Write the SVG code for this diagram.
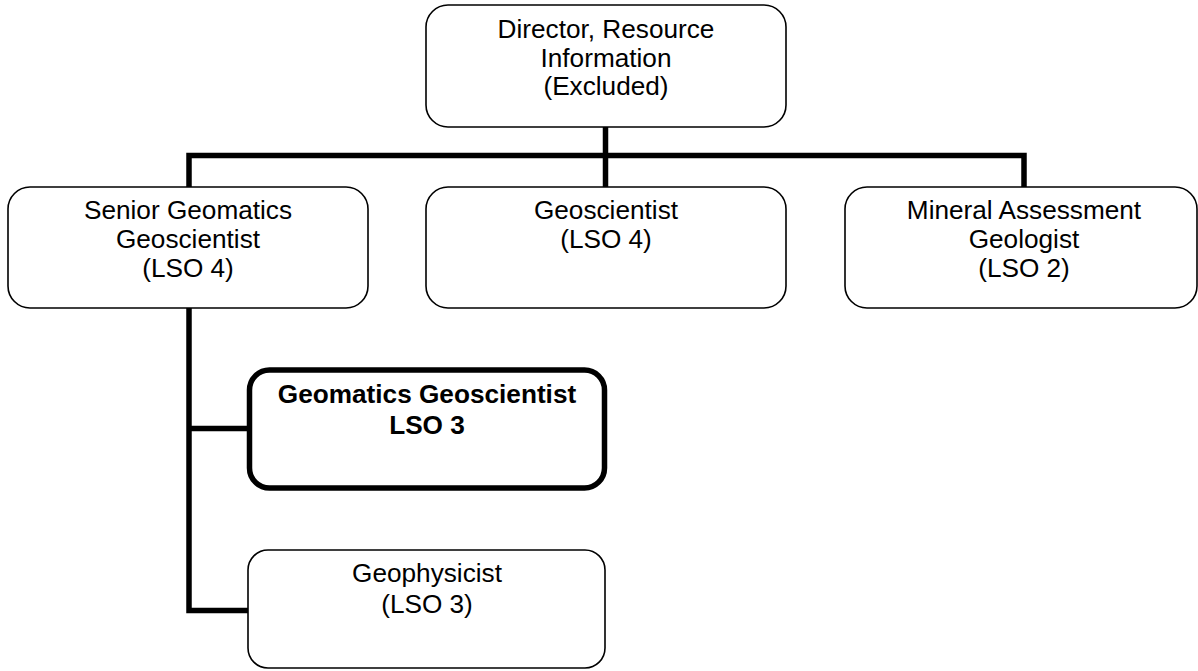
<svg xmlns="http://www.w3.org/2000/svg" width="1198" height="671" viewBox="0 0 1198 671">
<style>
.box{fill:#fff;stroke:#000;stroke-width:1.6}
.bold{fill:#fff;stroke:#000;stroke-width:5.5}
.t{font-family:"Liberation Sans",Arial,sans-serif;font-size:26.2px;fill:#000;text-anchor:middle}
.tb{font-family:"Liberation Sans",Arial,sans-serif;font-size:26.2px;font-weight:bold;fill:#000;text-anchor:middle}
.c{fill:none;stroke:#000;stroke-width:5.5;stroke-linejoin:miter;stroke-linecap:butt}
</style>
<rect width="1198" height="671" fill="#fff"/>
<g id="connectors">
<path class="c" d="M605.5 127 V155.5"/>
<path class="c" d="M189 187 V155.5 H1024 V187"/>
<path class="c" d="M605.5 155.5 V187"/>
<path class="c" d="M189 308 V610.5 H248"/>
<path class="c" d="M189 428.5 H248"/>
</g>
<g id="director">
<rect class="box" x="426" y="5" width="360" height="122" rx="22"/>
<text class="t" x="606" y="37.5">Director, Resource</text>
<text class="t" x="606" y="66.5">Information</text>
<text class="t" x="606" y="95">(Excluded)</text>
</g>
<g id="senior">
<rect class="box" x="8" y="187" width="360" height="121" rx="22"/>
<text class="t" x="188" y="219">Senior Geomatics</text>
<text class="t" x="188" y="248">Geoscientist</text>
<text class="t" x="188" y="277">(LSO 4)</text>
</g>
<g id="geoscientist">
<rect class="box" x="426" y="187" width="360" height="121" rx="22"/>
<text class="t" x="606" y="219">Geoscientist</text>
<text class="t" x="606" y="248">(LSO 4)</text>
</g>
<g id="mineral">
<rect class="box" x="845" y="187" width="352" height="121" rx="22"/>
<text class="t" x="1024" y="219">Mineral Assessment</text>
<text class="t" x="1024" y="248">Geologist</text>
<text class="t" x="1024" y="277">(LSO 2)</text>
</g>
<g id="geomatics">
<rect class="bold" x="249.5" y="370" width="355" height="118" rx="20"/>
<text class="tb" x="427" y="402.5">Geomatics Geoscientist</text>
<text class="tb" x="427" y="434">LSO 3</text>
</g>
<g id="geophysicist">
<rect class="box" x="248" y="550" width="357" height="118" rx="20"/>
<text class="t" x="427" y="581.5">Geophysicist</text>
<text class="t" x="427" y="613">(LSO 3)</text>
</g>
</svg>
